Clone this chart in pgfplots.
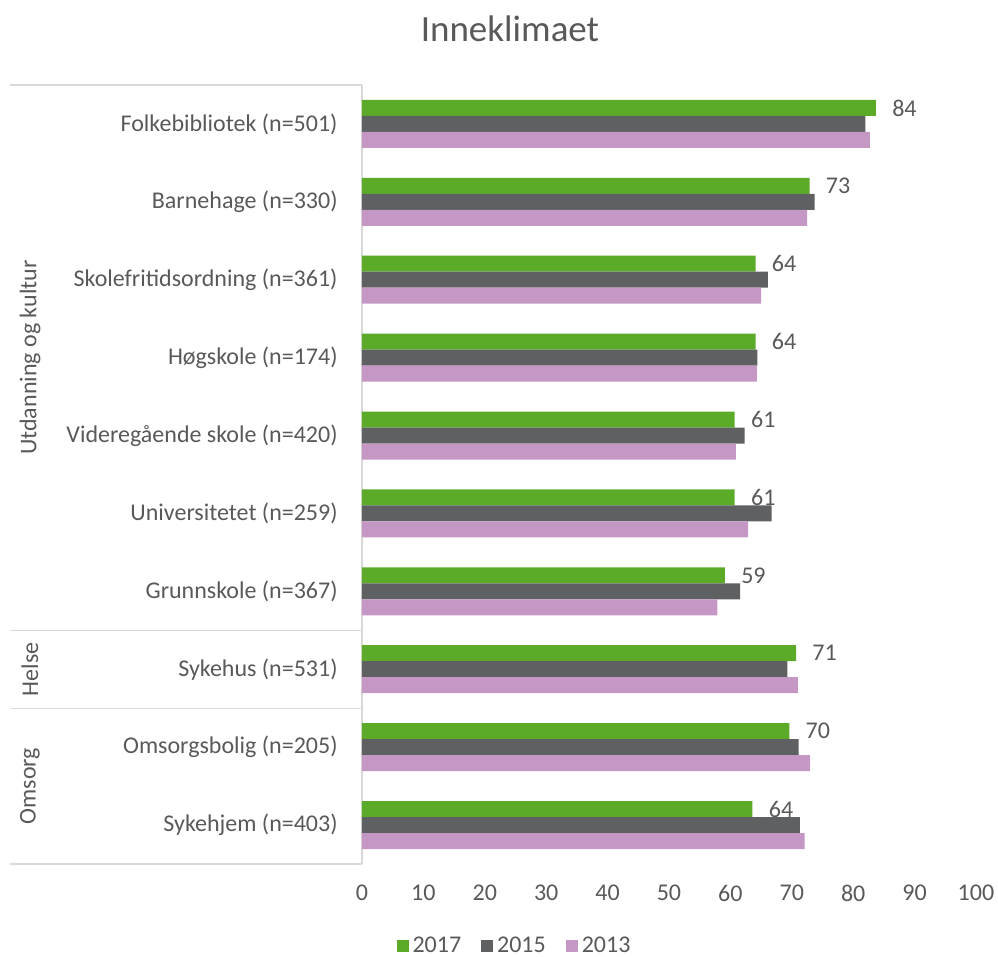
\documentclass[border=0pt]{standalone}
\usepackage{pgfplots}
\pgfplotsset{compat=1.18}
\usepackage{fontspec}
\setmainfont{Carlito}
\definecolor{g17}{HTML}{5BAB29}
\definecolor{g15}{HTML}{5F6062}
\definecolor{g13}{HTML}{C497C4}
\definecolor{txt}{HTML}{595959}
\definecolor{lin}{HTML}{D9D9D9}
\begin{document}
\begin{tikzpicture}
\useasboundingbox (-181pt,-46.5pt) rectangle (318pt,432pt);
\begin{axis}[
    scale only axis,
    width=307pt, height=389.5pt,
    xbar, bar width=8pt,
    xmin=0, xmax=100,
    ymin=-0.5, ymax=9.5,
    xtick={0,10,...,100},
    ytick={0,...,9},
    yticklabels={Sykehjem (n=403), Omsorgsbolig (n=205), Sykehus (n=531),
      Grunnskole (n=367), Universitetet (n=259), Videregående skole (n=420),
      Høgskole (n=174), Skolefritidsordning (n=361), Barnehage (n=330),
      Folkebibliotek (n=501)},
    axis lines*=left,
    x axis line style={draw=none},
    y axis line style={draw=lin, line width=0.6pt},
    major tick length=0pt,
    tick style={draw=none},
    ticklabel style={font=\fontsize{12}{14}\selectfont, text=txt},
    xticklabel style={anchor=center, yshift=-14.5pt,
      /pgf/number format/assume math mode=true},
    yticklabel style={anchor=east, inner sep=0pt, xshift=-12pt},
    clip=false,
    title={Inneklimaet},
    title style={at={(0.241,1.057)}, anchor=center,
      font=\fontsize{18.5}{22}\selectfont, text=txt},
    legend style={at={(0.25,-0.105)}, anchor=center, draw=none,
      legend columns=-1, font=\fontsize{12}{14}\selectfont, text=txt,
      /tikz/every even column/.append style={column sep=8pt}},
    legend image code/.code={\fill[#1] (0pt,-3pt) rectangle (6pt,3pt);},
  ]
  % 2017
  \addplot[fill=g17, draw=none, bar shift=8pt,
    nodes near coords,
    every node near coord/.append style={anchor=west, inner sep=0pt,
      xshift=8pt, font=\fontsize{12}{14}\selectfont, text=txt,
      /pgf/number format/fixed, /pgf/number format/precision=0,
      /pgf/number format/assume math mode=true}
  ] coordinates {
    (63.6,0) (69.6,1) (70.7,2) (59.1,3) (60.7,4)
    (60.7,5) (64.1,6) (64.1,7) (72.9,8) (83.7,9)
  };
  \addlegendentry{2017}
  % 2015
  \addplot[fill=g15, draw=none, bar shift=0pt] coordinates {
    (71.3,0) (71.1,1) (69.3,2) (61.6,3) (66.7,4)
    (62.3,5) (64.4,6) (66.1,7) (73.7,8) (82.0,9)
  };
  \addlegendentry{2015}
  % 2013
  \addplot[fill=g13, draw=none, bar shift=-8pt] coordinates {
    (72.1,0) (73.0,1) (71.0,2) (57.9,3) (62.9,4)
    (60.9,5) (64.3,6) (65.0,7) (72.5,8) (82.7,9)
  };
  \addlegendentry{2013}

  % group separators and group names
  \draw[lin, line width=0.6pt] (axis cs:0,9.5) -- ++(-176pt,0pt);
  \draw[lin, line width=0.6pt] (axis cs:0,2.5) -- ++(-176pt,0pt);
  \draw[lin, line width=0.6pt] (axis cs:0,1.5) -- ++(-176pt,0pt);
  \draw[lin, line width=0.6pt] (axis cs:0,-0.5) -- ++(-176pt,0pt);
  \node[rotate=90, text=txt, font=\fontsize{12}{14}\selectfont]
    at ([xshift=-166pt]axis cs:0,6) {Utdanning og kultur};
  \node[rotate=90, text=txt, font=\fontsize{12}{14}\selectfont]
    at ([xshift=-166pt]axis cs:0,2) {Helse};
  \node[rotate=90, text=txt, font=\fontsize{12}{14}\selectfont]
    at ([xshift=-166pt]axis cs:0,0.5) {Omsorg};
\end{axis}
\end{tikzpicture}
\end{document}
